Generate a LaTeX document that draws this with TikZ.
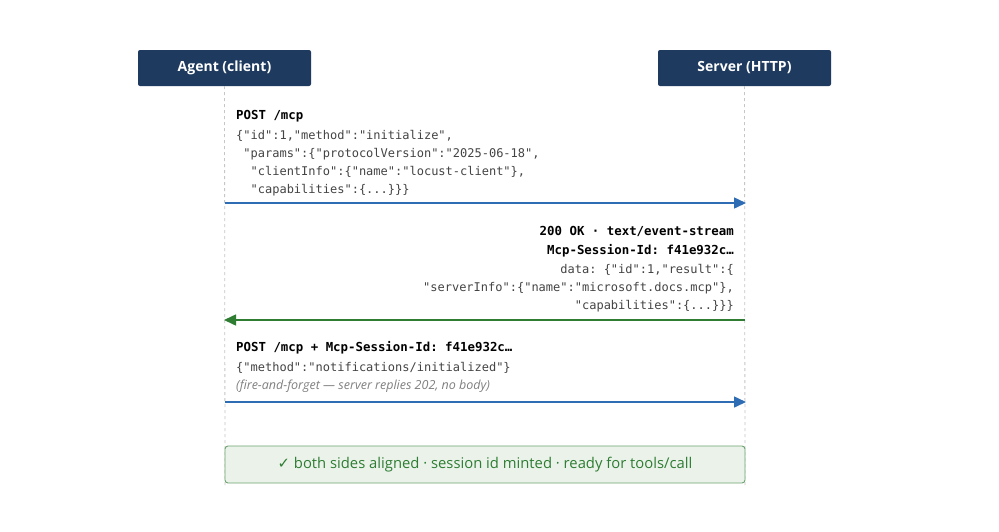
\documentclass[tikz,border=0pt]{standalone}
\usepackage{fontspec}
\setmainfont{Open Sans}
\setmonofont{DejaVu Sans Mono}
\newfontfamily\symf{DejaVu Sans}
\usetikzlibrary{arrows.meta}
\definecolor{navy}{HTML}{1F3A5F}
\definecolor{ablue}{HTML}{2E6DB4}
\definecolor{agreen}{HTML}{2E7D32}
\definecolor{txt}{HTML}{444444}
\begin{document}
\begin{tikzpicture}[x=1pt,y=-1pt,
  head/.style={fill=navy,text=white,rounded corners=2pt,minimum width=173pt,minimum height=36pt,font=\bfseries\fontsize{14}{16}\selectfont,inner sep=0pt},
  life/.style={draw=gray!45,dashed,line width=0.8pt},
  msg/.style={line width=1.5pt,-{Triangle[length=12pt,width=11pt]}},
  lt/.style={anchor=base west,inner sep=0pt,text=txt,font=\ttfamily\fontsize{12}{14}\selectfont},
  rt/.style={lt,anchor=base east},
  bt/.style={font=\ttfamily\bfseries\fontsize{12.4}{14}\selectfont,text=black}]
\useasboundingbox (0,0) rectangle (999,531);
\fill[white] (0,0) rectangle (999,531);
\node[head] (A) at (224.5,68) {Agent (client)};
\node[head] (S) at (744.5,68) {Server (HTTP)};
\coordinate (Ab) at (225,486); \coordinate (Sb) at (745,486);
\draw[life] (A.south) -- (Ab);
\draw[life] (S.south) -- (Sb);
% message 1
\node[lt,bt] at (236,119) {POST /mcp};
\node[lt] at (236,139) {\{"id":1,"method":"initialize",};
\node[lt] at (236,157) {~"params":\{"protocolVersion":"2025-06-18",};
\node[lt] at (236,175) {~~"clientInfo":\{"name":"locust-client"\},};
\node[lt] at (236,193) {~~"capabilities":\{...\}\}\}};
\coordinate (a1) at (225,203); \coordinate (s1) at (746,203);
\draw[msg,ablue] (a1) -- (s1);
% message 2
\node[rt,bt] at (734,235) {200 OK · text/event-stream};
\node[rt,bt] at (734,254) {Mcp-Session-Id: f41e932c…};
\node[rt] at (734,273) {data: \{"id":1,"result":\{};
\node[rt] at (734,291) {"serverInfo":\{"name":"microsoft.docs.mcp"\},};
\node[rt] at (734,309) {"capabilities":\{...\}\}\}};
\coordinate (s2) at (745,320); \coordinate (a2) at (224,320);
\draw[msg,agreen] (s2) -- (a2);
% message 3
\node[lt,bt] at (236,351) {POST /mcp + Mcp-Session-Id: f41e932c…};
\node[lt] at (236,371) {\{"method":"notifications/initialized"\}};
\node[lt,font=\itshape\fontsize{12.5}{14}\selectfont,text=gray] at (236,389) {(fire-and-forget — server replies 202, no body)};
\coordinate (a3) at (225,402); \coordinate (s3) at (746,402);
\draw[msg,ablue] (a3) -- (s3);
% result
\node[draw=agreen!70,fill=agreen!10,rounded corners=3pt,line width=0.9pt,minimum width=520pt,minimum height=37pt,inner sep=0pt,text=agreen,font=\fontsize{14.8}{16}\selectfont] (R) at (485,464.5) {{\symf ✓} both sides aligned · session id minted · ready for tools/call};
\end{tikzpicture}
\end{document}
